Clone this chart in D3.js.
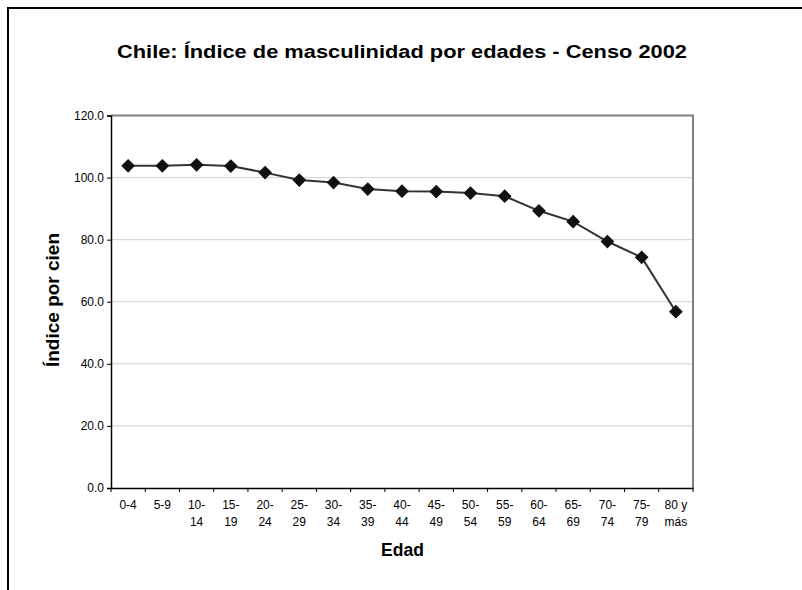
<!DOCTYPE html>
<html><head><meta charset="utf-8">
<script src="https://cdn.jsdelivr.net/npm/d3@7"></script>
<style>body{margin:0;background:#fff}svg{display:block}text{font-family:Arial,"Liberation Sans",sans-serif}</style>
</head><body>
<svg id="c" width="802" height="590"></svg>
<script>
const categories = ["0-4","5-9","10-14","15-19","20-24","25-29","30-34","35-39","40-44","45-49","50-54","55-59","60-64","65-69","70-74","75-79","80 y más"];
const labelLines = [["0-4"],["5-9"],["10-","14"],["15-","19"],["20-","24"],["25-","29"],["30-","34"],["35-","39"],["40-","44"],["45-","49"],["50-","54"],["55-","59"],["60-","64"],["65-","69"],["70-","74"],["75-","79"],["80 y","más"]];
const values = [103.8,103.8,104.1,103.7,101.6,99.2,98.4,96.3,95.6,95.5,95.0,94.0,89.3,85.8,79.4,74.3,56.8];
const yTicks = [0,20,40,60,80,100,120];
const title = "Chile: Índice de masculinidad por edades - Censo 2002";
const yTitle = "Índice por cien";
const xTitle = "Edad";

const svg = d3.select("#c");
const L = 111, R = 693, T = 115.5, B = 488;
const x = d3.scaleBand().domain(categories).range([L, R]).padding(0);
const y = d3.scaleLinear().domain([0,120]).range([B, T]);

// outer border
svg.append("path").attr("d","M8,592 L8,8 L804,8").attr("fill","none").attr("stroke","#000").attr("stroke-width",2);

// title
svg.append("text").attr("x",402).attr("y",58).attr("text-anchor","middle")
  .attr("font-size",18).attr("font-weight","bold")
  .attr("textLength",570).attr("lengthAdjust","spacingAndGlyphs").text(title);

// gridlines
svg.append("g").selectAll("line").data(yTicks.filter(d=>d>0 && d<120)).join("line")
  .attr("x1",L).attr("x2",R).attr("y1",d=>y(d)).attr("y2",d=>y(d))
  .attr("stroke","#d0d0d0").attr("stroke-width",1);

// plot border top/right (gray)
svg.append("path").attr("d",`M${L},${y(120)} L${R},${y(120)} L${R},${B}`)
  .attr("fill","none").attr("stroke","#808080").attr("stroke-width",2);

// y axis
const ya = svg.append("g").attr("transform",`translate(${L},0)`)
  .call(d3.axisLeft(y).tickValues(yTicks).tickFormat(d3.format(".1f")).tickSize(4).tickPadding(3));
ya.select(".domain").attr("stroke","#000").attr("stroke-width",1.5);
ya.selectAll(".tick line").attr("stroke","#000");
ya.selectAll(".tick text").attr("font-size",12).attr("font-family","Arial, 'Liberation Sans', sans-serif").attr("fill","#000");

// x axis
const xa = svg.append("g").attr("transform",`translate(0,${B})`)
  .call(d3.axisBottom(x).tickSize(0).tickFormat(""));
xa.select(".domain").attr("stroke","#000").attr("stroke-width",1.5);
const bounds = categories.map(c=>x(c)).concat([R]);
xa.selectAll(".btick").data(bounds).join("line").attr("class","btick")
  .attr("x1",d=>d).attr("x2",d=>d).attr("y1",0).attr("y2",4).attr("stroke","#000");
const lbl = svg.append("g").selectAll("text").data(categories).join("text")
  .attr("x",d=>x(d)+x.bandwidth()/2).attr("y",B+20.5)
  .attr("text-anchor","middle").attr("font-size",12).attr("fill","#000");
lbl.each(function(d,i){
  const t = d3.select(this);
  labelLines[i].forEach((s,j)=>{
    t.append("tspan").attr("x",x(d)+x.bandwidth()/2).attr("dy",j===0?0:17.5).text(s);
  });
});

// axis titles
svg.append("text").attr("x",402.5).attr("y",556).attr("text-anchor","middle")
  .attr("font-size",17.5).attr("font-weight","bold").text(xTitle);
svg.append("text").attr("transform","translate(59,300) rotate(-90)").attr("text-anchor","middle")
  .attr("font-size",17.5).attr("font-weight","bold")
  .attr("textLength",134).attr("lengthAdjust","spacingAndGlyphs").text(yTitle);

// line
const line = d3.line().x((d,i)=>x(categories[i])+x.bandwidth()/2).y(d=>y(d));
svg.append("path").datum(values).attr("d",line).attr("fill","none").attr("stroke","#333").attr("stroke-width",2);

// markers
svg.append("g").selectAll("path").data(values).join("path")
  .attr("d",d3.symbol(d3.symbolSquare,76))
  .attr("transform",(d,i)=>`translate(${x(categories[i])+x.bandwidth()/2},${y(d)}) rotate(45)`)
  .attr("fill","#111").attr("stroke","#111").attr("stroke-width",1);
</script>
</body></html>
